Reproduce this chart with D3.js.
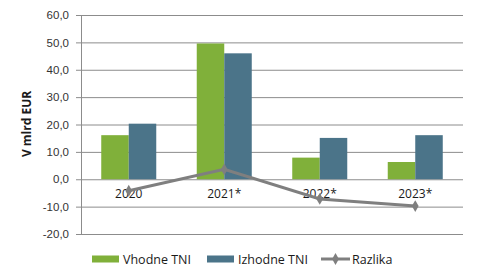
<!DOCTYPE html>
<meta charset="utf-8">
<style>
  body { margin: 0; background: #fff; }
  svg { font-family: "Open Sans", sans-serif; }
</style>
<svg width="479" height="280"></svg>
<script src="https://d3js.org/d3.v7.min.js"></script>
<script>

var categories = ["2020", "2021*", "2022*", "2023*"];
var vhodne = [16.1, 49.6, 7.9, 6.3];
var izhodne = [20.3, 46.0, 15.1, 16.1];
var razlika = [-4.2, 3.6, -7.2, -9.8];
var yTicks = [-20, -10, 0, 10, 20, 30, 40, 50, 60];

var svg = d3.select("svg"),
    plotLeft = 81, plotRight = 463, plotTop = 15, plotBottom = 234;

var x0 = d3.scaleBand()
    .domain(categories)
    .range([plotLeft, plotRight])
    .paddingInner(0.424)
    .paddingOuter(0.212);

var x1 = d3.scaleBand()
    .domain(["v", "i"])
    .range([0, x0.bandwidth()]);

var y = d3.scaleLinear()
    .domain([-20, 60])
    .range([plotBottom, plotTop]);

var z = { v: "#80b03a", i: "#4b7489" };
// comma decimal, plain hyphen for minus
var fmt = function(d) { return d.toFixed(1).replace(".", ","); };

// gridlines + y labels
var yAxis = svg.append("g")
    .attr("transform", "translate(" + plotLeft + ",0)")
    .call(d3.axisLeft(y).tickValues(yTicks).tickSize(-(plotRight - plotLeft)).tickFormat(fmt).tickPadding(12));
yAxis.select(".domain").remove();
yAxis.selectAll(".tick line").attr("stroke", "#8c8c8c").attr("x1", -5);
yAxis.selectAll(".tick text").attr("fill", "#333").attr("font-size", 11.5);

svg.append("line")
    .attr("x1", plotLeft + 0.5).attr("x2", plotLeft + 0.5)
    .attr("y1", plotTop).attr("y2", plotBottom)
    .attr("stroke", "#8c8c8c");

// bars
var groups = svg.append("g")
  .selectAll("g")
  .data(categories)
  .enter().append("g")
    .attr("transform", function(d) { return "translate(" + x0(d) + ",0)"; });

groups.selectAll("rect")
  .data(function(d, i) { return [{ k: "v", v: vhodne[i] }, { k: "i", v: izhodne[i] }]; })
  .enter().append("rect")
    .attr("x", function(d) { return x1(d.k); })
    .attr("width", x1.bandwidth())
    .attr("y", function(d) { return y(Math.max(0, d.v)); })
    .attr("height", function(d) { return Math.abs(y(d.v) - y(0)); })
    .attr("fill", function(d) { return z[d.k]; });

// category labels next to zero line
svg.append("g")
  .selectAll("text")
  .data(categories)
  .enter().append("text")
    .attr("x", function(d) { return x0(d) + x0.bandwidth() / 2; })
    .attr("y", y(0) + 19)
    .attr("text-anchor", "middle")
    .attr("font-size", 12)
    .attr("fill", "#1a1a1a")
    .text(function(d) { return d; });

// Razlika line
var cx = function(d, i) { return x0(categories[i]) + x0.bandwidth() / 2; };
svg.append("path")
    .datum(razlika)
    .attr("fill", "none")
    .attr("stroke", "#7f7f7f")
    .attr("stroke-width", 3)
    .attr("d", d3.line().x(cx).y(function(d) { return y(d); }));

svg.append("g")
  .selectAll("path")
  .data(razlika)
  .enter().append("path")
    .attr("transform", function(d, i) { return "translate(" + cx(d, i) + "," + y(d) + ")"; })
    .attr("d", d3.symbol().type(d3.symbolDiamond).size(40))
    .attr("fill", "#7f7f7f");

// y title
svg.append("text")
    .attr("transform", "translate(31,124)rotate(-90)")
    .attr("text-anchor", "middle")
    .attr("font-size", 12)
    .attr("font-weight", "bold")
    .attr("fill", "#1a1a1a")
    .text("V mlrd EUR");

// legend
var legend = svg.append("g").attr("font-size", 12.5).attr("fill", "#1a1a1a");
legend.append("rect").attr("x", 92).attr("y", 255.5).attr("width", 27).attr("height", 7).attr("fill", z.v);
legend.append("text").attr("x", 123).attr("y", 263.5).text("Vhodne TNI");
legend.append("rect").attr("x", 207).attr("y", 255.5).attr("width", 27).attr("height", 7).attr("fill", z.i);
legend.append("text").attr("x", 238).attr("y", 263.5).text("Izhodne TNI");
legend.append("line").attr("x1", 321).attr("x2", 350).attr("y1", 259).attr("y2", 259)
    .attr("stroke", "#7f7f7f").attr("stroke-width", 3);
legend.append("path").attr("transform", "translate(335.5,259)")
    .attr("d", d3.symbol().type(d3.symbolDiamond).size(40)).attr("fill", "#7f7f7f");
legend.append("text").attr("x", 352).attr("y", 263.5).text("Razlika");

</script>
